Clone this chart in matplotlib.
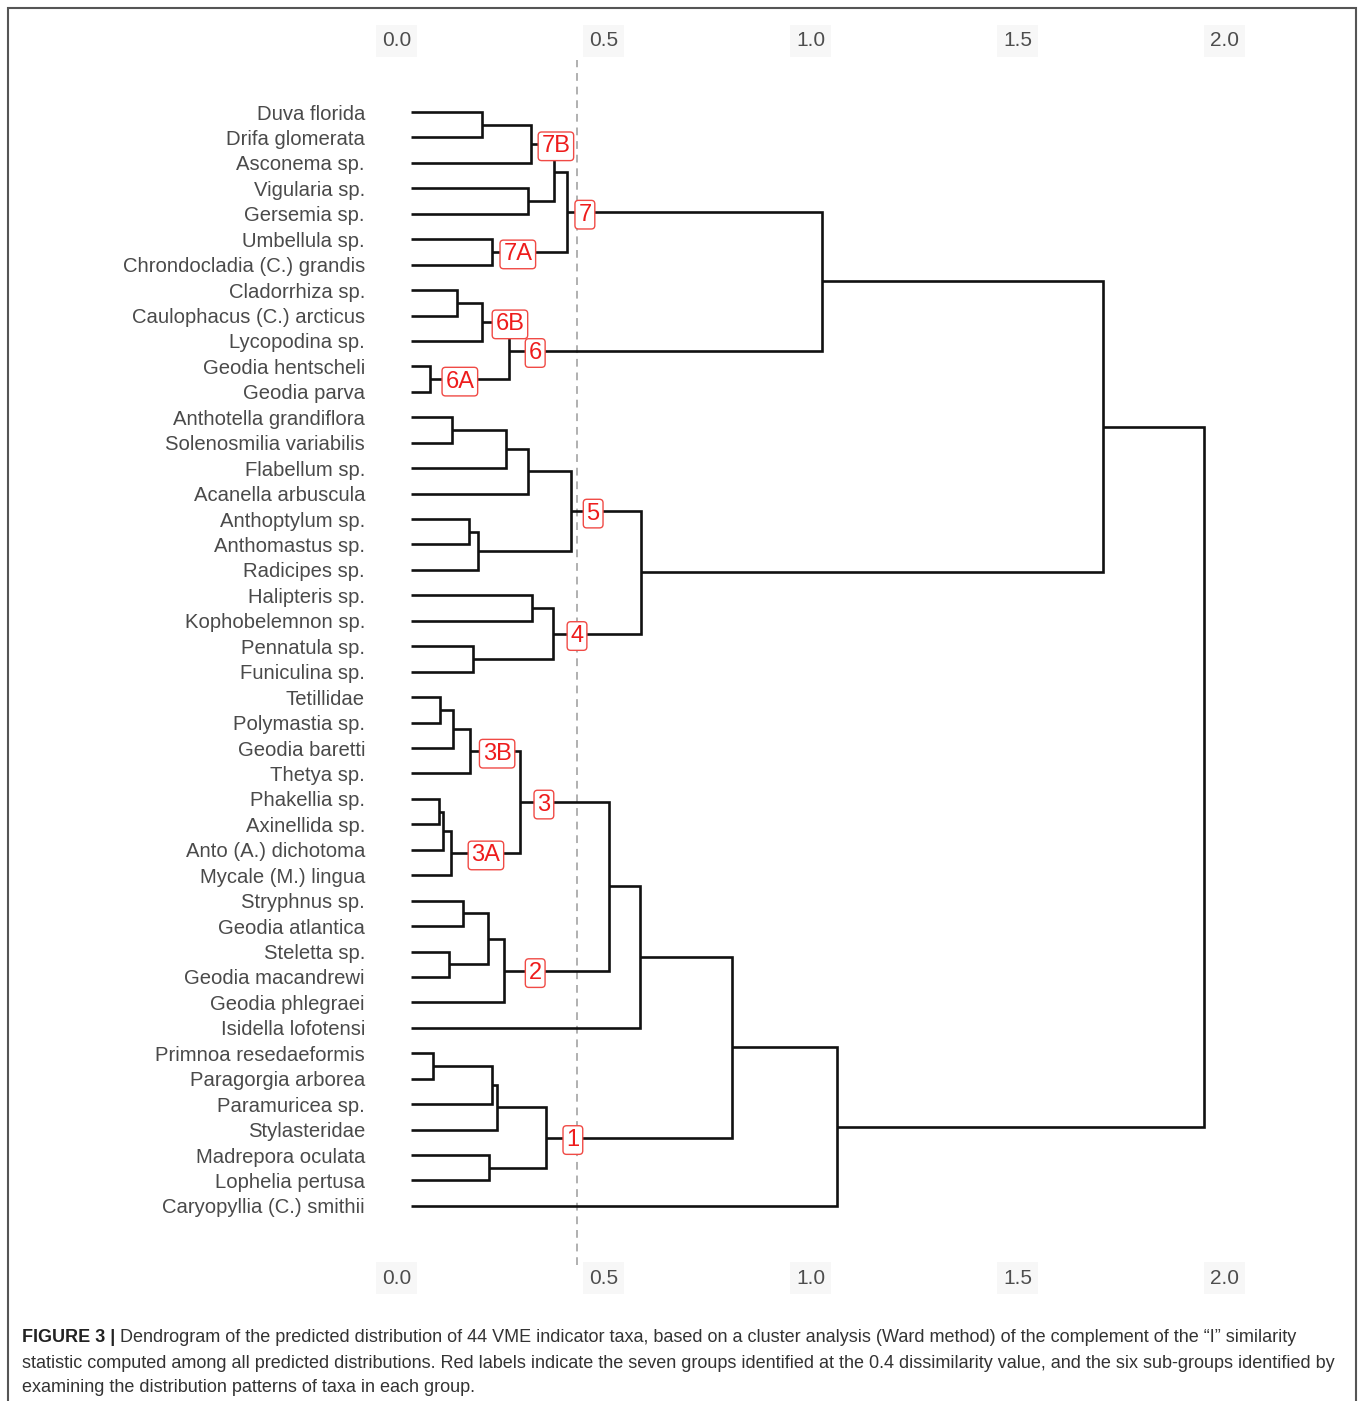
import matplotlib
matplotlib.use("Agg")
import matplotlib.pyplot as plt
from matplotlib.patches import Rectangle
import matplotlib.transforms as mtransforms

plt.rcParams['font.family'] = ['Liberation Sans', 'DejaVu Sans']

# leaf order, top to bottom
taxa = [
    "Duva florida", "Drifa glomerata", "Asconema sp.", "Vigularia sp.",
    "Gersemia sp.", "Umbellula sp.", "Chrondocladia (C.) grandis",
    "Cladorrhiza sp.", "Caulophacus (C.) arcticus", "Lycopodina sp.",
    "Geodia hentscheli", "Geodia parva", "Anthotella grandiflora",
    "Solenosmilia variabilis", "Flabellum sp.", "Acanella arbuscula",
    "Anthoptylum sp.", "Anthomastus sp.", "Radicipes sp.", "Halipteris sp.",
    "Kophobelemnon sp.", "Pennatula sp.", "Funiculina sp.", "Tetillidae",
    "Polymastia sp.", "Geodia baretti", "Thetya sp.", "Phakellia sp.",
    "Axinellida sp.", "Anto (A.) dichotoma", "Mycale (M.) lingua",
    "Stryphnus sp.", "Geodia atlantica", "Steletta sp.", "Geodia macandrewi",
    "Geodia phlegraei", "Isidella lofotensi", "Primnoa resedaeformis",
    "Paragorgia arborea", "Paramuricea sp.", "Stylasteridae",
    "Madrepora oculata", "Lophelia pertusa", "Caryopyllia (C.) smithii",
]

# merges: (left, right, height); ids >= 44 refer to earlier merges (44 + k)
merge_left = [0, 44, 3, 45, 5, 47, 7, 50, 10, 51, 49, 12, 55, 56, 16, 58,
              57, 19, 21, 61, 60, 54, 23, 66, 67, 27, 69, 70, 68, 31, 33,
              73, 75, 72, 77, 37, 79, 80, 41, 81, 78, 84, 65]
merge_right = [1, 2, 4, 46, 6, 48, 8, 9, 11, 52, 53, 13, 14, 15, 17, 18,
               59, 20, 22, 62, 63, 64, 24, 25, 26, 28, 29, 30, 71, 32, 34,
               74, 35, 76, 36, 38, 39, 40, 42, 82, 83, 43, 85]
merge_height = [0.171, 0.290, 0.283, 0.345, 0.196, 0.377, 0.111, 0.171,
                0.046, 0.237, 0.993, 0.099, 0.229, 0.283, 0.140, 0.162,
                0.386, 0.292, 0.150, 0.343, 0.556, 1.671, 0.070, 0.101,
                0.143, 0.068, 0.077, 0.097, 0.263, 0.126, 0.092, 0.186,
                0.225, 0.478, 0.553, 0.053, 0.196, 0.208, 0.188, 0.326,
                0.775, 1.029, 1.915]

# group labels: text, cluster id, x position of the label
group_names = ["7B", "7", "7A", "6B", "6", "6A", "5", "4", "3B", "3A", "3", "2", "1"]
group_nodes = [45, 49, 48, 51, 53, 52, 60, 63, 68, 71, 72, 76, 83]
group_x = [0.350, 0.420, 0.258, 0.239, 0.300, 0.118, 0.440, 0.401,
           0.208, 0.181, 0.321, 0.300, 0.391]

cut_value = 0.4
ticks = [0.0, 0.5, 1.0, 1.5, 2.0]

caption_bold = "FIGURE 3 | "
caption_lines = [
    "Dendrogram of the predicted distribution of 44 VME indicator taxa, based on a cluster analysis (Ward method) of the complement of the \u201cI\u201d similarity",
    "statistic computed among all predicted distributions. Red labels indicate the seven groups identified at the 0.4 dissimilarity value, and the six sub-groups identified by",
    "examining the distribution patterns of taxa in each group.",
]

W, H = 1358, 1401
fig = plt.figure(figsize=(W / 100, H / 100), dpi=100)

ax_l, ax_r, ax_t, ax_b = 380, 1260, 60, 1265
ax = fig.add_axes([ax_l / W, 1 - ax_b / H, (ax_r - ax_l) / W, (ax_b - ax_t) / H])
x0_px, unit_px = 411, 414
ax.set_xlim((ax_l - x0_px) / unit_px, (ax_r - x0_px) / unit_px)
row_px, first_px = 25.44, 112
ax.set_ylim((ax_b - first_px) / row_px, (ax_t - first_px) / row_px)
ax.axis('off')

# node positions
n = len(taxa)
pos_y = {i: float(i) for i in range(n)}
pos_x = {i: 0.0 for i in range(n)}
for k, (a, b, h) in enumerate(zip(merge_left, merge_right, merge_height)):
    node = n + k
    pos_y[node] = (pos_y[a] + pos_y[b]) / 2
    pos_x[node] = h
    ax.plot([pos_x[a], h, h, pos_x[b]], [pos_y[a], pos_y[a], pos_y[b], pos_y[b]],
            color='#111111', lw=1.9, solid_capstyle='butt', solid_joinstyle='miter',
            zorder=2)

ax.axvline(cut_value, color='#b0b0b0', lw=1.4, linestyle=(0, (4, 3)), zorder=1)

for i, name in enumerate(taxa):
    ax.text((365 - x0_px) / unit_px, i, name, ha='right', va='center_baseline',
            fontsize=14.6, color='#4a4a4a')

for name, node, gx in zip(group_names, group_nodes, group_x):
    ax.text(gx, pos_y[node], name, ha='center', va='center_baseline', fontsize=17,
            color='#ee1c1c', zorder=4,
            bbox=dict(boxstyle='round,pad=0.14,rounding_size=0.15',
                      facecolor='white', edgecolor='#f04a45', lw=1.0))

# tick labels, right aligned to tick position, top and bottom
trans = mtransforms.blended_transform_factory(ax.transData, fig.transFigure)
for t in ticks:
    for ypx in (39, 1276):
        ax.text(t, 1 - ypx / H, f"{t:.1f}", transform=trans, ha='right',
                va='center_baseline', fontsize=15, color='#4d4d4d',
                bbox=dict(boxstyle='square,pad=0.3', facecolor='#f7f7f7',
                          edgecolor='none'))

# frame around the figure
fig.patches.append(Rectangle((7.5 / W, -0.05), (1355.5 - 7.5) / W, 1.05 - 8 / H,
                             transform=fig.transFigure, fill=False,
                             edgecolor='#555555', lw=1.5))

# caption
fig.canvas.draw()
renderer = fig.canvas.get_renderer()
cap_y = [1335, 1361, 1386]
cap_fs = 13.0
bt = fig.text(22 / W, 1 - cap_y[0] / H, caption_bold, fontsize=cap_fs,
              fontweight='bold', color='#222222', va='center_baseline', ha='left')
bb = bt.get_window_extent(renderer)
fig.text(bb.x1 / W, 1 - cap_y[0] / H, caption_lines[0], fontsize=cap_fs,
         color='#333333', va='center_baseline', ha='left')
for line, yy in zip(caption_lines[1:], cap_y[1:]):
    fig.text(22 / W, 1 - yy / H, line, fontsize=cap_fs, color='#333333',
             va='center_baseline', ha='left')

fig.savefig("out.png", dpi=100)
